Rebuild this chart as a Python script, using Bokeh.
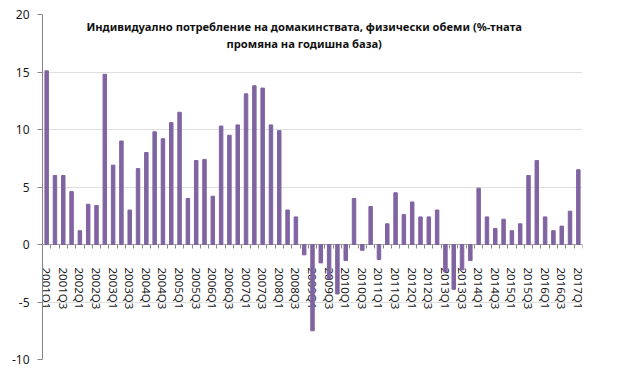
from bokeh.plotting import figure
from bokeh.models import FixedTicker, Range1d, Label
from bokeh.embed import file_html
from bokeh.resources import INLINE

quarters = [
    "2001Q1", "2001Q2", "2001Q3", "2001Q4",
    "2002Q1", "2002Q2", "2002Q3", "2002Q4",
    "2003Q1", "2003Q2", "2003Q3", "2003Q4",
    "2004Q1", "2004Q2", "2004Q3", "2004Q4",
    "2005Q1", "2005Q2", "2005Q3", "2005Q4",
    "2006Q1", "2006Q2", "2006Q3", "2006Q4",
    "2007Q1", "2007Q2", "2007Q3", "2007Q4",
    "2008Q1", "2008Q2", "2008Q3", "2008Q4",
    "2009Q1", "2009Q2", "2009Q3", "2009Q4",
    "2010Q1", "2010Q2", "2010Q3", "2010Q4",
    "2011Q1", "2011Q2", "2011Q3", "2011Q4",
    "2012Q1", "2012Q2", "2012Q3", "2012Q4",
    "2013Q1", "2013Q2", "2013Q3", "2013Q4",
    "2014Q1", "2014Q2", "2014Q3", "2014Q4",
    "2015Q1", "2015Q2", "2015Q3", "2015Q4",
    "2016Q1", "2016Q2", "2016Q3", "2016Q4",
    "2017Q1",
]

growth = [
    15.1, 6.0, 6.0, 4.6,
    1.2, 3.5, 3.4, 14.8,
    6.9, 9.0, 3.0, 6.6,
    8.0, 9.8, 9.2, 10.6,
    11.5, 4.0, 7.3, 7.4,
    4.2, 10.3, 9.5, 10.4,
    13.1, 13.8, 13.6, 10.4,
    9.9, 3.0, 2.4, -0.9,
    -7.5, -1.6, -3.0, -4.3,
    -1.4, 4.0, -0.5, 3.3,
    -1.3, 1.8, 4.5, 2.6,
    3.7, 2.4, 2.4, 3.0,
    -2.4, -3.9, -2.2, -1.4,
    4.9, 2.4, 1.4, 2.2,
    1.2, 1.8, 6.0, 7.3,
    2.4, 1.2, 1.6, 2.9,
    6.5,
]

y_ticks = [-10, -5, 0, 5, 10, 15, 20]
y_labels = ["-10", "-5", "0", "5", "10", "15", "20"]
title_text = ("Индивидуално потребление на домакинствата, физически обеми (%-тната\n"
              "промяна на годишна база)")

n = len(quarters)
xs = list(range(1, n + 1))

p = figure(width=625, height=372, output_backend="svg", toolbar_location=None,
           x_range=Range1d(0.5, n + 0.5), y_range=Range1d(-10, 20),
           min_border_left=42, min_border_right=43, min_border_top=14,
           min_border_bottom=13)

p.vbar(x=xs, top=growth, width=0.42, fill_color="#8064A2", line_color="#8064A2")

xa = p.xaxis[0]
xa.fixed_location = 0
xa.level = "underlay"
xa.ticker = FixedTicker(ticks=xs[::2], minor_ticks=[x - 0.5 for x in xs] + [n + 0.5])
xa.major_label_overrides = {x: q for x, q in zip(xs[::2], quarters[::2])}
xa.major_label_orientation = "vertical"
xa.major_tick_out = 0
xa.major_tick_in = 0
xa.minor_tick_out = 4
xa.minor_tick_in = 0
xa.minor_tick_line_color = "#868686"
xa.axis_line_color = "#868686"
xa.major_label_text_font = "Noto Sans"
xa.major_label_text_font_size = "11.5px"
xa.major_label_text_color = "#1a1a1a"
xa.major_label_standoff = 19

ya = p.yaxis[0]
ya.ticker = FixedTicker(ticks=y_ticks)
ya.major_label_overrides = dict(zip(y_ticks, y_labels))
ya.axis_line_color = "#868686"
ya.major_tick_line_color = "#868686"
ya.major_tick_out = 5
ya.major_tick_in = 0
ya.minor_tick_out = 0
ya.minor_tick_in = 0
ya.major_label_text_font = "Noto Sans"
ya.major_label_text_font_size = "12px"
ya.major_label_text_color = "#1a1a1a"
ya.major_label_standoff = 8

p.xgrid.visible = False
p.ygrid.grid_line_color = "#BFBFBF"
p.ygrid.grid_line_dash = "1 1"
p.outline_line_color = None
p.background_fill_color = "white"
p.border_fill_color = "white"

title = Label(x=32.0, y=19.6, text=title_text, text_align="center",
              text_baseline="top", text_font="Noto Sans", text_font_style="bold",
              text_font_size="11.2px", text_color="#111111", text_line_height=1.15)
p.add_layout(title)

open("out.html", "w").write(file_html(p, INLINE))
